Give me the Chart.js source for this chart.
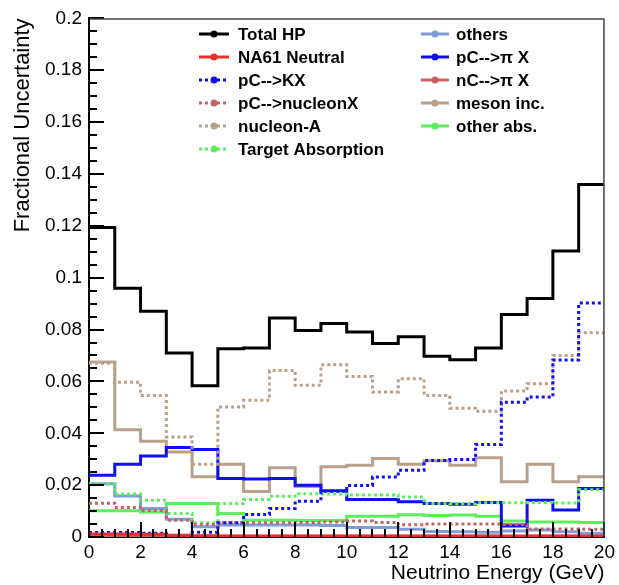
<!DOCTYPE html>
<html>
<head>
<meta charset="utf-8">
<script src="https://cdn.jsdelivr.net/npm/chart.js@4.4.1/dist/chart.umd.min.js"></script>
<style>
  html, body { margin: 0; padding: 0; background: #fff; }
  #wrap { width: 619px; height: 585px; }
</style>
</head>
<body>
<div id="wrap"><canvas id="graph" width="619" height="585"></canvas></div>
<script>
// bin edges of the histograms (GeV)
const binEdges = [0, 1, 2, 3, 4, 5, 6, 7, 8, 9, 10, 11, 12, 13, 14, 15, 16, 17, 18, 19, 20];

// fractional uncertainty per bin
const totalHP = [0.1194, 0.0959, 0.0871, 0.0710, 0.0583, 0.0726, 0.0729, 0.0845, 0.0796, 0.0823, 0.0791, 0.0746, 0.0772, 0.0697, 0.0684, 0.0729, 0.0858, 0.0920, 0.1103, 0.1359];
const na61Neutral = [0.0012, 0.0012, 0.0011, 0.0007, 0.0005, 0.0004, 0.0004, 0.0004, 0.0004, 0.0004, 0.0004, 0.0004, 0.0004, 0.0004, 0.0004, 0.0004, 0.0004, 0.0004, 0.0004, 0.0004];
const pcKX = [0.0017, 0.0017, 0.0014, 0.0006, 0.0018, 0.0055, 0.0087, 0.0110, 0.0138, 0.0176, 0.0199, 0.0231, 0.0257, 0.0295, 0.0299, 0.0357, 0.0520, 0.0540, 0.0683, 0.0902];
const pcNucleonX = [0.0130, 0.0114, 0.0102, 0.0065, 0.0048, 0.0055, 0.0055, 0.0055, 0.0056, 0.0058, 0.0062, 0.0056, 0.0047, 0.0050, 0.0050, 0.0050, 0.0048, 0.0031, 0.0031, 0.0030];
const nucleonA = [0.0670, 0.0597, 0.0546, 0.0386, 0.0281, 0.0501, 0.0527, 0.0642, 0.0585, 0.0664, 0.0619, 0.0559, 0.0610, 0.0546, 0.0497, 0.0485, 0.0563, 0.0591, 0.0700, 0.0788];
const targetAbs = [0.0204, 0.0166, 0.0142, 0.0091, 0.0055, 0.0129, 0.0145, 0.0157, 0.0167, 0.0166, 0.0162, 0.0162, 0.0154, 0.0129, 0.0128, 0.0132, 0.0132, 0.0133, 0.0131, 0.0182];
const others = [0.0205, 0.0158, 0.0110, 0.0068, 0.0040, 0.0046, 0.0046, 0.0046, 0.0046, 0.0044, 0.0037, 0.0037, 0.0030, 0.0021, 0.0020, 0.0018, 0.0023, 0.0027, 0.0020, 0.0014];
const pcPiX = [0.0238, 0.0281, 0.0312, 0.0345, 0.0337, 0.0226, 0.0224, 0.0226, 0.0200, 0.0178, 0.0145, 0.0145, 0.0136, 0.0129, 0.0126, 0.0133, 0.0042, 0.0142, 0.0104, 0.0187];
const ncPiX = [0.0003, 0.0003, 0.0003, 0.0003, 0.0003, 0.0003, 0.0003, 0.0003, 0.0003, 0.0003, 0.0003, 0.0003, 0.0003, 0.0003, 0.0003, 0.0003, 0.0047, 0.0003, 0.0003, 0.0003];
const mesonInc = [0.0675, 0.0414, 0.0369, 0.0328, 0.0232, 0.0281, 0.0175, 0.0267, 0.0195, 0.0271, 0.0277, 0.0303, 0.0281, 0.0294, 0.0277, 0.0306, 0.0213, 0.0281, 0.0213, 0.0232];
const otherAbs = [0.0101, 0.0101, 0.0096, 0.0129, 0.0129, 0.0091, 0.0065, 0.0065, 0.0064, 0.0064, 0.0080, 0.0080, 0.0086, 0.0083, 0.0085, 0.0080, 0.0062, 0.0058, 0.0058, 0.0056];

const xTicks = [0, 2, 4, 6, 8, 10, 12, 14, 16, 18, 20];
const yTicks = [0, 0.02, 0.04, 0.06, 0.08, 0.1, 0.12, 0.14, 0.16, 0.18, 0.2];

const FONT = "'Liberation Sans', Arial, Helvetica, sans-serif";

// histogram outline: each bin becomes a flat segment between its edges
function steps(values) {
    let pts = [];
    values.forEach((v, i) => {
        pts.push({x: binEdges[i], y: v});
        pts.push({x: binEdges[i + 1], y: v});
    });
    return pts;
}

const series = [
    {label: 'Total HP', data: totalHP, color: '#000000', dash: [], width: 3, col: 0},
    {label: 'NA61 Neutral', data: na61Neutral, color: '#e8302a', dash: [], width: 3, col: 0},
    {label: 'pC-->KX', data: pcKX, color: '#1010ee', dash: [3, 3], width: 3, col: 0},
    {label: 'pC-->nucleonX', data: pcNucleonX, color: '#c06464', dash: [3, 3], width: 3, col: 0},
    {label: 'nucleon-A', data: nucleonA, color: '#b9a08a', dash: [3, 3], width: 3, col: 0},
    {label: 'Target Absorption', data: targetAbs, color: '#5cee5c', dash: [3, 3], width: 3, col: 0},
    {label: 'others', data: others, color: '#7f9cd8', dash: [], width: 3, col: 1},
    {label: 'pC-->\u03c0 X', data: pcPiX, color: '#1010ee', dash: [], width: 3, col: 1},
    {label: 'nC-->\u03c0 X', data: ncPiX, color: '#c86060', dash: [], width: 3, col: 1},
    {label: 'meson inc.', data: mesonInc, color: '#b9a08a', dash: [], width: 3, col: 1},
    {label: 'other abs.', data: otherAbs, color: '#5cee5c', dash: [], width: 3, col: 1},
];

// ROOT style inward ticks, frame and the two-column legend
const rootFrame = {
    id: 'rootFrame',
    afterDatasetsDraw(chart) {
        const c = chart.ctx;
        const a = chart.chartArea;
        const xs = chart.scales.x, ys = chart.scales.y;
        c.save();
        c.strokeStyle = '#000';
        c.lineWidth = 2;
        c.setLineDash([]);
        c.beginPath();
        for (let i = 0; i <= 40; i++) {
            const v = i * 0.005;
            const py = Math.round(ys.getPixelForValue(v));
            c.moveTo(a.left, py);
            c.lineTo(a.left + (i % 4 === 0 ? 15 : 8), py);
        }
        for (let i = 0; i <= 40; i++) {
            const v = i * 0.5;
            const px = Math.round(xs.getPixelForValue(v));
            c.moveTo(px, a.bottom);
            c.lineTo(px, a.bottom - (i % 4 === 0 ? 15 : 8));
        }
        c.stroke();
        c.strokeStyle = '#444';
        c.lineWidth = 1.5;
        c.beginPath();
        c.moveTo(a.left, a.top + 0.5);
        c.lineTo(a.right - 0.5, a.top + 0.5);
        c.lineTo(a.right - 0.5, a.bottom);
        c.stroke();
        c.restore();
    },
    afterDraw(chart) {
        const c = chart.ctx;
        const rows = [34, 57, 80, 103, 126, 149];
        const cols = [{x0: 199, x1: 229, tx: 238}, {x0: 421, x1: 449, tx: 456}];
        const count = [0, 0];
        c.save();
        c.font = 'bold 17px ' + FONT;
        c.textBaseline = 'middle';
        series.forEach(s => {
            const col = cols[s.col];
            const y = rows[count[s.col]++];
            c.strokeStyle = s.color;
            c.lineWidth = s.width;
            c.setLineDash(s.dash);
            c.beginPath();
            c.moveTo(col.x0, y);
            c.lineTo(col.x1, y);
            c.stroke();
            c.setLineDash([]);
            c.fillStyle = s.color;
            c.beginPath();
            c.arc((col.x0 + col.x1) / 2, y, 3.5, 0, Math.PI * 2);
            c.fill();
            c.fillStyle = '#000';
            c.fillText(s.label, col.tx, y + 1);
        });
        c.restore();
    }
};

const ctx = document.querySelector('#graph').getContext('2d');

const chart = new Chart(ctx, {
    type: 'line',
    data: {
        datasets: series.map(s => ({
            label: s.label,
            data: steps(s.data),
            borderColor: s.color,
            borderWidth: s.width,
            borderDash: s.dash,
            borderCapStyle: 'butt',
            borderJoinStyle: 'miter',
            pointRadius: 0,
            fill: false,
            tension: 0
        }))
    },
    plugins: [rootFrame],
    options: {
        responsive: false,
        animation: false,
        devicePixelRatio: 1,
        layout: {padding: {left: 0, right: 13, top: 16, bottom: 0}},
        plugins: {
            legend: {display: false},
            tooltip: {enabled: false}
        },
        scales: {
            x: {
                type: 'linear',
                min: 0,
                max: 20,
                afterFit: (scale) => { scale.height = 48; },
                afterBuildTicks: (scale) => { scale.ticks = xTicks.map(v => ({value: v})); },
                ticks: {
                    color: '#000',
                    font: {family: FONT, size: 19},
                    padding: 4,
                    maxRotation: 0,
                    callback: (v) => String(v)
                },
                grid: {display: false, drawTicks: false},
                border: {display: true, color: '#000', width: 2},
                title: {
                    display: true,
                    text: 'Neutrino Energy (GeV)',
                    align: 'end',
                    color: '#000',
                    font: {family: FONT, size: 21},
                    padding: {top: 0, bottom: -1}
                }
            },
            y: {
                type: 'linear',
                min: 0,
                max: 0.2,
                afterFit: (scale) => { scale.width = 89; },
                afterBuildTicks: (scale) => { scale.ticks = yTicks.map(v => ({value: v})); },
                ticks: {
                    color: '#000',
                    font: {family: FONT, size: 19},
                    padding: 7,
                    callback: (v) => String(Number(v.toFixed(3)))
                },
                grid: {display: false, drawTicks: false},
                border: {display: true, color: '#000', width: 2},
                title: {
                    display: true,
                    text: 'Fractional Uncertainty',
                    align: 'end',
                    color: '#000',
                    font: {family: FONT, size: 22},
                    padding: {top: 10, bottom: 0}
                }
            }
        }
    }
});
</script>
</body>
</html>
